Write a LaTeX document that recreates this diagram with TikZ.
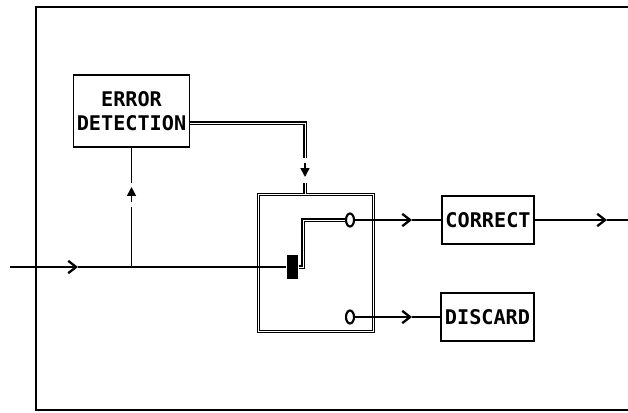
\documentclass[tikz,border=0pt]{standalone}
\usepackage{fontspec}
\newfontfamily\plotter{DejaVu Sans Mono Bold}
\usetikzlibrary{arrows.meta,shapes.geometric}

\tikzset{
  block/.style={draw,line width=1pt,inner sep=0pt,font=\plotter\fontsize{11.5}{13.6}\selectfont},
  flow/.style={-{Straight Barb[length=4.5pt,width=7pt,line width=1.3pt]}},
  tick/.style={-{Triangle[length=5pt,width=5pt]}},
  ctrl/.style={double,line width=0.8pt,double distance=0.5pt},
  contact/.style={draw,ellipse,line width=1.2pt,minimum width=0.16cm,minimum height=0.26cm,inner sep=0pt},
}

\begin{document}
\begin{tikzpicture}[x=0.02cm,y=-0.02cm,line width=0.9pt]
  \useasboundingbox (0,0) rectangle (628,412);
  % frame, open at the right
  \draw[line width=1pt] (628,7) -- (36,7) -- (36,410) -- (628,410);

  % boxes
  \node[block,minimum width=2.32cm,minimum height=1.44cm,align=center] (detect) at (131.5,111) {ERROR\\DETECTION};
  \node[block,minimum width=1.84cm,minimum height=0.96cm] (correct) at (488,220) {CORRECT};
  \node[block,minimum width=1.86cm,minimum height=0.96cm] (discard) at (487.5,317) {DISCARD};
  \node[draw,ctrl,minimum width=2.3cm,minimum height=2.74cm,inner sep=0pt] (switch) at (316,263) {};

  % switch inside
  \node[contact] (up) at (350,220) {};
  \node[contact] (down) at (350,317) {};
  \node[fill,minimum width=0.22cm,minimum height=0.48cm,inner sep=0pt] (lever) at (292.5,267) {};
  \coordinate (bend) at (303,220);
  \draw[ctrl] (lever.east) -| (bend) -- (up.west);

  % input
  \coordinate (in) at (10,267);
  \coordinate (inarr) at (78,267);
  \coordinate (tap) at (131.5,267);
  \draw[flow] (in) -- (inarr);
  \draw (inarr) -- (lever.west);

  % feedback to detection
  \coordinate (upa) at (131.5,183);
  \coordinate (upb) at (131.5,202);
  \coordinate (upc) at (131.5,187);
  \coordinate (upd) at (131.5,207);
  \draw (detect.south) -- (upa);
  \draw[tick] (upb) -- (upc);
  \draw (upd) -- (tap);

  % control to switch
  \coordinate (ctl) at (0,123);
  \coordinate (downa) at (305,158);
  \coordinate (downb) at (305,163);
  \coordinate (downc) at (305,177);
  \coordinate (downd) at (305,183);
  \draw[ctrl] (detect.east |- ctl) -| (downa);
  \draw[tick] (downb) -- (downc);
  \draw[ctrl] (downd) -- (downd |- switch.north);

  % outputs
  \coordinate (okarr) at (412,220);
  \coordinate (badarr) at (412,317);
  \coordinate (outarr) at (607,220);
  \coordinate (out) at (628,220);
  \draw[flow] (up.east) -- (okarr);
  \draw (okarr) -- (correct.west);
  \draw[flow] (down.east) -- (badarr);
  \draw (badarr) -- (discard.west);
  \draw[flow] (correct.east) -- (outarr);
  \draw (outarr) -- (out);
\end{tikzpicture}
\end{document}
